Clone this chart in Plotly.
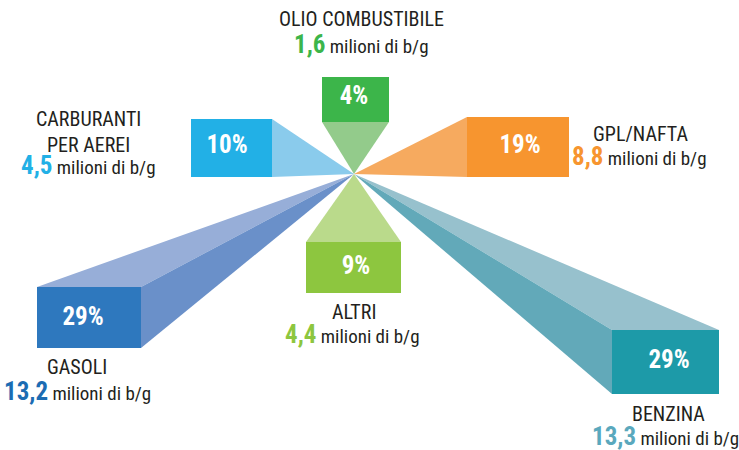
import plotly.graph_objects as go

# ---------------- data ----------------
categories = ["OLIO COMBUSTIBILE", "CARBURANTI<br>PER AEREI", "GPL/NAFTA", "ALTRI", "GASOLI", "BENZINA"]
shares = [4, 10, 19, 9, 29, 29]                      # %
volumes = ["1,6", "4,5", "8,8", "4,4", "13,2", "13,3"]  # milioni di b/g
unit = "milioni di b/g"

# ---------------- styling / layout (pixel space) ----------------
W, H = 739, 450
apex = (354, 174)
# box rectangles: x0, y0, x1, y1
boxes = [
    (322, 77, 389, 122),
    (191, 119, 272, 177),
    (467, 117, 569, 177),
    (306, 242, 401, 293),
    (37, 287, 141, 348),
    (612, 330, 719, 394),
]
# faces connecting the apex to box edges: (edge, colour)
faces = [
    [("bottom", "#93cb8b")],
    [("right", "#8acbec")],
    [("left", "#f6aa5f")],
    [("top", "#bada8b")],
    [("top", "#97aed8"), ("right", "#6a90c9")],
    [("top", "#97c1cd"), ("left", "#62a9b9")],
]
box_colors = ["#3cb54a", "#22b0e6", "#f7952f", "#8dc63f", "#2e78be", "#1d9aa8"]
num_colors = ["#3cb54a", "#22b0e6", "#f7952f", "#8dc63f", "#1b6cb3", "#5aa8bd"]
pct_pos = [(354, 98), (227, 147), (520, 147), (356, 268), (83, 319), (669, 362)]
name_pos = [(361, 19), (88, 131.5), (640, 133.5), (354, 312), (77, 367), (668, 413.5)]
val_pos = [(361, 44.5), (88.5, 165.5), (639.5, 156.5), (352.5, 334), (77.5, 391.5), (665, 436)]

FONT = "Roboto Condensed, Liberation Sans Narrow, DejaVu Sans Condensed, Arial Narrow, sans-serif"
TEXT_COLOR = "#231f20"

fig = go.Figure()


def edge_pts(box, edge):
    x0, y0, x1, y1 = box
    return {
        "top": [(x0, y0), (x1, y0)],
        "bottom": [(x0, y1), (x1, y1)],
        "left": [(x0, y0), (x0, y1)],
        "right": [(x1, y0), (x1, y1)],
    }[edge]


# faces first
for box, flist in zip(boxes, faces):
    for edge, col in flist:
        (ax, ay), (bx, by) = edge_pts(box, edge)
        fig.add_trace(go.Scatter(
            x=[apex[0], ax, bx, apex[0]], y=[apex[1], ay, by, apex[1]],
            mode="lines", fill="toself", fillcolor=col,
            line=dict(width=0, color=col), hoverinfo="skip", showlegend=False))

# boxes
for box, col in zip(boxes, box_colors):
    x0, y0, x1, y1 = box
    fig.add_trace(go.Scatter(
        x=[x0, x1, x1, x0, x0], y=[y0, y0, y1, y1, y0],
        mode="lines", fill="toself", fillcolor=col,
        line=dict(width=0, color=col), hoverinfo="skip", showlegend=False))

# percentages
fig.add_trace(go.Scatter(
    x=[p[0] for p in pct_pos], y=[p[1] for p in pct_pos],
    mode="text", text=[f"<b>{s}%</b>" for s in shares],
    textfont=dict(family=FONT, size=25, color="white"),
    hoverinfo="skip", showlegend=False))

# labels
for cat, vol, ncol, npos, vpos in zip(categories, volumes, num_colors, name_pos, val_pos):
    fig.add_annotation(x=npos[0], y=npos[1], text=cat, showarrow=False,
                       xanchor="center", yanchor="middle",
                       font=dict(family=FONT, size=20, color=TEXT_COLOR))
    fig.add_annotation(
        x=vpos[0], y=vpos[1],
        text=f"<span style='font-size:25px;color:{ncol}'><b>{vol}</b></span> {unit}",
        showarrow=False, xanchor="center", yanchor="middle",
        font=dict(family=FONT, size=19, color=TEXT_COLOR))

fig.update_layout(
    width=W, height=H,
    margin=dict(l=0, r=0, t=0, b=0),
    paper_bgcolor="white", plot_bgcolor="white",
    xaxis=dict(range=[0, W], visible=False, fixedrange=True),
    yaxis=dict(range=[H, 0], visible=False, fixedrange=True),
    showlegend=False,
)

fig.write_html("out.html", config={"displayModeBar": False},
               post_script="document.body.style.margin='0';document.body.style.overflow='hidden';")
